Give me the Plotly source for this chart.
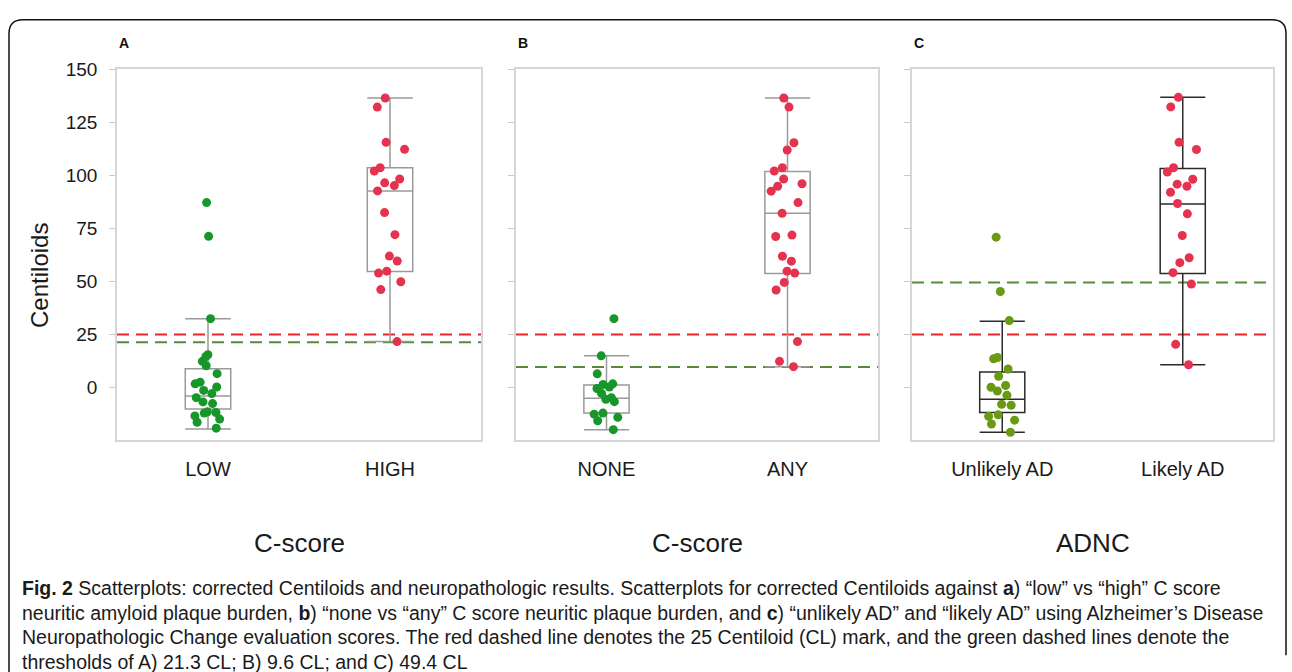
import plotly.graph_objects as go

# ---------------- data ----------------
cats_a = ["LOW", "HIGH"]
cats_b = ["NONE", "ANY"]
cats_c = ["Unlikely AD", "Likely AD"]

low_vals = [87.1, 71.2, 32.4, 15.4, 14.6, 12.3, 10.2, 6.5, 2.5, 1.7, 0.2, -1.4, -2.9,
            -4.8, -6.8, -7.6, -11.5, -11.8, -12.1, -13.4, -14.9, -16.4, -19.2]
high_vals = [136.4, 132.1, 115.5, 112.2, 103.5, 102.0, 98.2, 96.4, 95.1, 92.6, 82.4,
             72.0, 61.9, 59.6, 54.8, 53.9, 49.8, 46.1, 21.6]
none_vals = [32.4, 14.9, 6.4, 1.7, 1.4, 0.2, -0.5, -2.8, -4.8, -5.6, -6.7, -12.1,
             -12.6, -14.1, -15.7, -19.9]
any_vals = [136.4, 132.1, 115.3, 111.9, 103.5, 102.0, 98.2, 96.0, 94.8, 92.5, 87.1,
            82.1, 71.8, 71.1, 61.8, 59.5, 54.8, 53.9, 49.5, 45.9, 21.6, 12.3, 9.8]
unlikely_vals = [70.8, 45.2, 31.5, 14.1, 13.5, 8.7, 5.3, 0.9, 0.1, -1.7, -3.7, -7.9,
                 -8.4, -12.9, -13.6, -15.4, -17.2, -21.1]
likely_vals = [136.7, 132.2, 115.5, 112.1, 103.5, 101.5, 98.1, 95.8, 94.8, 92.0, 86.7,
               81.8, 71.6, 61.1, 58.8, 54.1, 48.7, 20.3, 10.7]

# box statistics: [group0, group1]
q1_a, med_a, q3_a, lo_a, hi_a = [-10.2, 54.6], [-4.0, 92.6], [8.8, 103.5], [-19.6, 21.6], [32.4, 136.4]
q1_b, med_b, q3_b, lo_b, hi_b = [-12.1, 53.7], [-5.1, 82.1], [1.1, 101.8], [-19.9, 9.8], [14.9, 136.4]
q1_c, med_c, q3_c, lo_c, hi_c = [-11.8, 53.7], [-5.6, 86.4], [7.3, 103.2], [-21.1, 10.7], [31.2, 136.7]

red_threshold = 25
green_thresholds = [21.3, 9.6, 49.4]

y_ticks = [0, 25, 50, 75, 100, 125, 150]

# ---------------- styling ----------------
W, H = 1292, 672
FONT = "Liberation Sans, Arial, sans-serif"
GREEN_AB = "#17962a"
GREEN_C = "#6a9a14"
RED_PT = "#e5334f"
RED_LINE = "#e8262a"
GREEN_LINE = "#578a3a"

def px(x):
    return x / W

def py(y):
    return 1 - y / H

panels = [
    dict(cats=cats_a, vals=[low_vals, high_vals], stats=(q1_a, med_a, q3_a, lo_a, hi_a),
         xdom=[px(117), px(481)], colors=[GREEN_AB, RED_PT], boxline="#9a9a9a", title="C-score"),
    dict(cats=cats_b, vals=[none_vals, any_vals], stats=(q1_b, med_b, q3_b, lo_b, hi_b),
         xdom=[px(516), px(878)], colors=[GREEN_AB, RED_PT], boxline="#9a9a9a", title="C-score"),
    dict(cats=cats_c, vals=[unlikely_vals, likely_vals], stats=(q1_c, med_c, q3_c, lo_c, hi_c),
         xdom=[px(912), px(1273)], colors=[GREEN_C, RED_PT], boxline="#2a2a2a", title="ADNC"),
]

fig = go.Figure()
ydom = [py(437), py(60)]
BW = 0.25

shapes = []
annotations = []
for i, p in enumerate(panels):
    n = i + 1
    xa = "x" if n == 1 else f"x{n}"
    ya = "y" if n == 1 else f"y{n}"
    q1, med, q3, lo, hi = p["stats"]
    for g in range(2):
        fig.add_trace(go.Box(
            x=[p["cats"][g]], q1=[q1[g]], median=[med[g]], q3=[q3[g]],
            lowerfence=[lo[g]], upperfence=[hi[g]],
            boxpoints=False, width=BW, whiskerwidth=1,
            fillcolor="rgba(0,0,0,0)", line=dict(color=p["boxline"], width=1.5),
            xaxis=xa, yaxis=ya, showlegend=False, hoverinfo="skip"))
    for g in range(2):
        fig.add_trace(go.Box(
            x=[p["cats"][g]] * len(p["vals"][g]), y=p["vals"][g],
            boxpoints="all", jitter=0.75, pointpos=0, width=BW,
            fillcolor="rgba(0,0,0,0)", line=dict(color="rgba(0,0,0,0)", width=0),
            marker=dict(color=p["colors"][g], size=9, line=dict(width=0)),
            xaxis=xa, yaxis=ya, showlegend=False, hoveron="points"))
    axkey = "xaxis" if n == 1 else f"xaxis{n}"
    aykey = "yaxis" if n == 1 else f"yaxis{n}"
    fig.update_layout(**{
        axkey: dict(domain=p["xdom"], anchor=ya, type="category",
                    categoryorder="array", categoryarray=p["cats"],
                    range=[-0.5, 1.5], showline=True, mirror=True, linecolor="#d6d6d6",
                    linewidth=1.5, showgrid=False, zeroline=False, ticks="",
                    tickfont=dict(family=FONT, size=20, color="#1a1a1a"),
                    ticklabelstandoff=10),
        aykey: dict(domain=ydom, anchor=xa, range=[-25, 150], tickvals=y_ticks,
                    showticklabels=(n == 1), ticks="outside", ticklen=6, tickcolor="#c8c8c8",
                    showline=True, mirror=True, linecolor="#d6d6d6", linewidth=1.5,
                    showgrid=False, zeroline=False,
                    tickfont=dict(family=FONT, size=19, color="#1a1a1a"),
                    ticklabelstandoff=8),
    })
    xref_dom = ("x" if n == 1 else f"x{n}") + " domain"
    shapes.append(dict(type="line", xref=xref_dom, yref=ya, x0=0, x1=1,
                       y0=red_threshold, y1=red_threshold, layer="below",
                       line=dict(color=RED_LINE, width=2, dash="12px,7px")))
    shapes.append(dict(type="line", xref=xref_dom, yref=ya, x0=0, x1=1,
                       y0=green_thresholds[i], y1=green_thresholds[i], layer="below",
                       line=dict(color=GREEN_LINE, width=2, dash="12px,7px")))
    cx = (p["xdom"][0] + p["xdom"][1]) / 2
    annotations.append(dict(text=p["title"], x=cx, y=py(541), xref="paper", yref="paper",
                            showarrow=False, xanchor="center", yanchor="middle",
                            font=dict(family=FONT, size=26, color="#1a1a1a")))
    annotations.append(dict(text="<b>" + "ABC"[i] + "</b>", x=p["xdom"][0], y=py(33),
                            xref="paper", yref="paper", showarrow=False,
                            xanchor="left", yanchor="middle",
                            font=dict(family=FONT, size=14, color="#111")))

annotations.append(dict(text="Centiloids", x=px(40), y=py(270), xref="paper", yref="paper",
                        textangle=-90, showarrow=False, xanchor="center", yanchor="middle",
                        font=dict(family=FONT, size=24, color="#1a1a1a")))

caption_lines = [
    "<b>Fig. 2</b> Scatterplots: corrected Centiloids and neuropathologic results. Scatterplots for corrected Centiloids against <b>a</b>) “low” vs “high” C score",
    "neuritic amyloid plaque burden, <b>b</b>) “none vs “any” C score neuritic plaque burden, and <b>c</b>) “unlikely AD” and “likely AD” using Alzheimer’s Disease",
    "Neuropathologic Change evaluation scores. The red dashed line denotes the 25 Centiloid (CL) mark, and the green dashed lines denote the",
    "thresholds of A) 21.3 CL; B) 9.6 CL; and C) 49.4 CL",
]
for k, line in enumerate(caption_lines):
    annotations.append(dict(text=line, x=px(20), y=py(587 + 24.8 * k), xref="paper",
                            yref="paper", showarrow=False, xanchor="left", yanchor="middle",
                            font=dict(family=FONT, size=19.5, color="#1a1a1a")))

# outer rounded frame
frame = (f"M {px(9)},{py(672)} L {px(9)},{py(24)} Q {px(9)},{py(10)} {px(23)},{py(10)} "
         f"L {px(1272)},{py(10)} Q {px(1286)},{py(10)} {px(1286)},{py(24)} L {px(1286)},{py(655)}")
shapes.append(dict(type="path", xref="paper", yref="paper", path=frame,
                   line=dict(color="#111", width=1.5)))

fig.update_layout(width=W, height=H, margin=dict(l=0, r=0, t=0, b=0),
                  paper_bgcolor="white", plot_bgcolor="white",
                  boxmode="overlay", shapes=shapes, annotations=annotations,
                  font=dict(family=FONT))

fig.write_html("out.html", config={"displayModeBar": False},
               post_script="document.body.style.margin='0';document.body.style.overflow='hidden';")
